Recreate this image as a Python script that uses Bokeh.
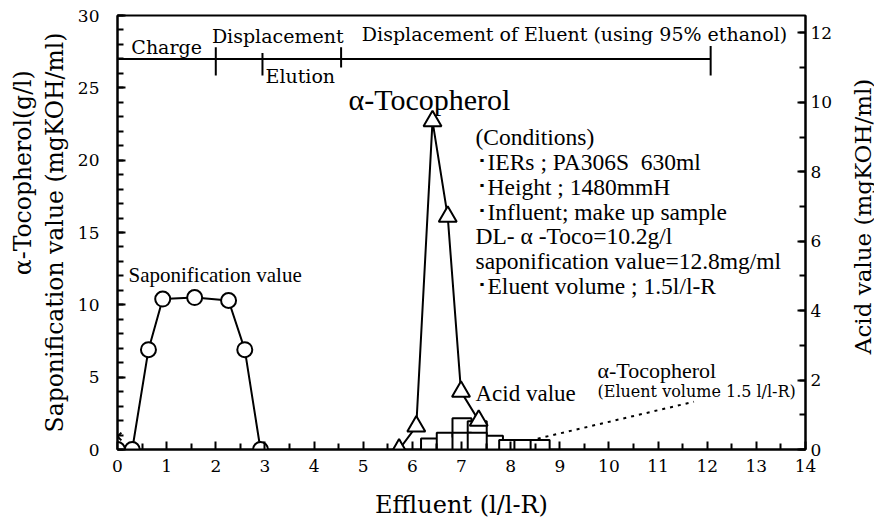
from bokeh.plotting import figure
from bokeh.models import Label, Range1d, LinearAxis, FixedTicker
from bokeh.layouts import row
from bokeh.embed import file_html
from bokeh.resources import INLINE
import math

# ---------------- data ----------------
sap_x = [0, 0.3, 0.63, 0.92, 1.57, 2.26, 2.59, 2.91]
sap_y = [0, 0, 6.9, 10.4, 10.5, 10.3, 6.9, 0]
cross_x = [0]
cross_y = [0.9]
toco_x = [5.73, 6.08, 6.41, 6.72, 6.99, 7.35]
toco_y = [0, 1.6, 22.7, 16.1, 4.0, 2.0]
sq_x = [6.37, 6.69, 7.01, 7.32, 7.65, 7.96, 8.27, 8.6]
sq_y = [0.1, 0.5, 1.5, 1.3, 0.3, 0, 0, 0]
sq2_x = [7.01, 7.32]
sq2_y = [0.5, 0.5]
leader_x = [8.55, 11.73]
leader_y = [0.75, 3.3]
stage_bounds = [0, 2.0, 2.95, 4.55, 12.07]
stage_level = 27.0
x_ticks = list(range(0, 15))
left_ticks = [0, 5, 10, 15, 20, 25, 30]
right_ticks = [0, 2, 4, 6, 8, 10, 12]

SERIF = "DejaVu Serif"
TIMES = "Liberation Serif"
FL, FB = 117, 449  # frame left / bottom in page pixels
NB = "\u00a0"
SIDE_W = 26

p = figure(frame_width=688, frame_height=434, x_range=Range1d(0, 14), y_range=Range1d(0, 30),
           output_backend="svg", toolbar_location=None,
           min_border_left=117, min_border_right=69 - SIDE_W, min_border_top=15, min_border_bottom=78)
p.xgrid.visible = False
p.ygrid.visible = False
p.outline_line_color = "black"
p.outline_line_width = 2
p.background_fill_color = "white"
p.border_fill_color = "white"

p.extra_y_ranges = {"acid": Range1d(0, 12.5)}
ra = LinearAxis(y_range_name="acid")
p.add_layout(ra, "right")

outer = LinearAxis(ticker=FixedTicker(ticks=[]))
p.add_layout(outer, "left")

for ax in [p.xaxis[0], p.yaxis[0], ra]:
    ax.axis_line_width = 2
    ax.axis_line_color = "black"
    ax.major_tick_in = 8
    ax.major_tick_out = 0
    ax.minor_tick_in = 6
    ax.minor_tick_out = 0
    ax.major_tick_line_width = 2
    ax.minor_tick_line_width = 2
    ax.major_label_text_font = SERIF
    ax.major_label_text_font_size = "17px"
    ax.major_label_text_color = "black"

outer.axis_line_color = None
outer.major_tick_line_color = None
outer.minor_tick_line_color = None
outer.major_label_text_font_size = "0px"
outer.major_label_standoff = 0

for ax in [p.xaxis[0], p.yaxis[0], outer]:
    ax.axis_label_text_font = SERIF
    ax.axis_label_text_font_style = "normal"
    ax.axis_label_text_color = "black"

p.xaxis[0].ticker = FixedTicker(ticks=x_ticks, minor_ticks=[t + 0.5 for t in x_ticks[:-1]])
p.yaxis[0].ticker = FixedTicker(ticks=left_ticks, minor_ticks=list(range(0, 31)))
ra.ticker = FixedTicker(ticks=right_ticks, minor_ticks=list(range(0, 13)))
p.xaxis[0].major_label_standoff = 10
p.yaxis[0].major_label_standoff = 18
ra.major_label_standoff = 5

p.xaxis[0].axis_label = "Effluent (l/l-R)"
p.xaxis[0].axis_label_text_font_size = "24px"
p.xaxis[0].axis_label_standoff = 16

p.yaxis[0].axis_label = "Saponification value (mgKOH/ml)"
p.yaxis[0].axis_label_text_font_size = "23.5px"
p.yaxis[0].axis_label_standoff = 6

outer.axis_label = NB * 16 + "α-Tocopherol(g/l)"
outer.axis_label_text_font_size = "23.5px"
outer.axis_label_standoff = 1


def slab(px, py, t, size, font=SERIF, align="left"):
    p.add_layout(Label(x=px - FL, y=FB - py, x_units="screen", y_units="screen", text=t,
                       text_align=align, text_baseline="middle",
                       text_font=font, text_font_size=size, text_color="black"))


def lab(x, y, t, size, font=SERIF, align="center"):
    p.add_layout(Label(x=x, y=y, text=t, text_align=align, text_baseline="middle",
                       text_font=font, text_font_size=size, text_color="black"))


# stage bar
p.line([stage_bounds[0], stage_bounds[-1]], [stage_level, stage_level], line_color="black", line_width=2)
tick_lo = [25.85, 25.85, 26.4, 25.85]
tick_hi = [27.8, 27.4, 27.8, 27.9]
p.segment(x0=stage_bounds[1:], y0=tick_lo, x1=stage_bounds[1:], y1=tick_hi, line_color="black", line_width=2)

lab(1.0, 27.85, "Charge", "19px")
lab(3.26, 28.6, "Displacement", "19px")
lab(3.72, 25.85, "Elution", "19px")
lab(9.3, 28.75, "Displacement of Eluent (using 95% ethanol)", "19px")

# data lines and markers
p.line(sap_x, sap_y, line_color="black", line_width=2)
p.scatter(sap_x, sap_y, marker="circle", size=15, fill_color="white", line_color="black", line_width=2)
p.scatter(cross_x, cross_y, marker="x", size=11, line_color="black", line_width=2)

p.line(toco_x, toco_y, line_color="black", line_width=2)
p.line(sq_x, sq_y, line_color="black", line_width=2)
p.scatter(sq_x, sq_y, marker="square", size=19, fill_color="white", line_color="black", line_width=2)
p.scatter(sq2_x, sq2_y, marker="square", size=19, fill_color="white", line_color="black", line_width=2)
p.scatter(toco_x, toco_y, marker="triangle", size=18, fill_color="white", line_color="black", line_width=2)

p.line(leader_x, leader_y, line_color="black", line_width=2, line_dash="3 5")

# annotations
slab(348, 99, "α-Tocopherol", "30px", font=TIMES)
slab(128, 274, "Saponification value", "21px", font=TIMES)
slab(475, 393, "Acid value", "23px", font=TIMES)
slab(597, 370, "α-Tocopherol", "22px", font=TIMES)
slab(597, 391, "(Eluent volume 1.5 l/l-R)", "16px", font=SERIF)

cond = ["(Conditions)",
        "･IERs ; PA306S" + NB * 2 + "630ml",
        "･Height ; 1480mmH",
        "･Influent; make up sample",
        "DL- α -Toco=10.2g/l",
        "saponification value=12.8mg/ml",
        "･Eluent volume ; 1.5l/l-R"]
cond_py = [136, 161, 186, 211, 235, 260, 285]
for t, py in zip(cond, cond_py):
    slab(475, py, t, "23.5px", font=TIMES)

# narrow side panel carrying the right-hand axis title (reads bottom to top)
TOTAL_H = 15 + 434 + 78
side = figure(width=SIDE_W, height=TOTAL_H, x_range=Range1d(0, SIDE_W), y_range=Range1d(0, TOTAL_H),
              output_backend="svg", toolbar_location=None, x_axis_type=None, y_axis_type=None,
              min_border=0)
side.outline_line_color = None
side.xgrid.visible = False
side.ygrid.visible = False
side.background_fill_color = "white"
side.border_fill_color = "white"
side.add_layout(Label(x=SIDE_W - 12, y=TOTAL_H - 244, text="Acid value (mgKOH/ml)", angle=math.pi / 2,
                      text_align="center", text_baseline="middle", text_font=SERIF,
                      text_font_size="23px", text_color="black"))

layout = row(p, side, spacing=0)
open("out.html", "w").write(file_html(layout, INLINE))
